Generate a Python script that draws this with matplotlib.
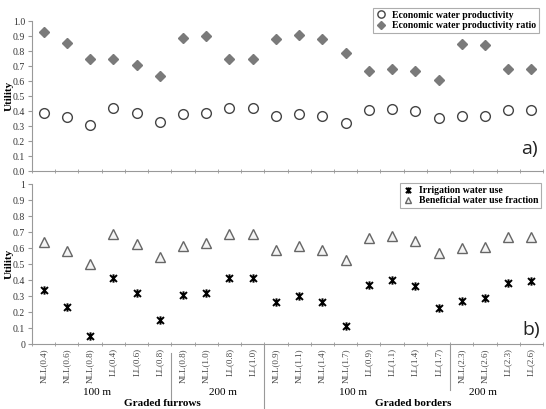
import numpy as np
import matplotlib
matplotlib.use("Agg")
import matplotlib.pyplot as plt
from matplotlib.path import Path

plt.rcParams['font.family'] = ['Liberation Serif', 'DejaVu Serif']

## data
labels = ["NLL(0.4)", "NLL(0.6)", "NLL(0.8)", "LL(0.4)", "LL(0.6)", "LL(0.8)",
          "NLL(0.8)", "NLL(1.0)", "LL(0.8)", "LL(1.0)",
          "NLL(0.9)", "NLL(1.1)", "NLL(1.4)", "NLL(1.7)", "LL(0.9)", "LL(1.1)", "LL(1.4)", "LL(1.7)",
          "NLL(2.3)", "NLL(2.6)", "LL(2.3)", "LL(2.6)"]
ewp = [0.39, 0.36, 0.31, 0.42, 0.385, 0.33, 0.38, 0.385, 0.42, 0.42,
       0.365, 0.38, 0.365, 0.32, 0.405, 0.415, 0.40, 0.355, 0.37, 0.37, 0.41, 0.41]
ewp_ratio = [0.93, 0.855, 0.75, 0.75, 0.705, 0.635, 0.885, 0.90, 0.75, 0.75,
             0.88, 0.905, 0.88, 0.785, 0.67, 0.68, 0.665, 0.61, 0.845, 0.84, 0.68, 0.68]
iwu = [0.335, 0.233, 0.052, 0.415, 0.32, 0.152, 0.308, 0.32, 0.41, 0.41,
       0.26, 0.298, 0.26, 0.11, 0.37, 0.402, 0.365, 0.223, 0.27, 0.29, 0.38, 0.396]
bwuf = [0.635, 0.58, 0.502, 0.687, 0.623, 0.542, 0.612, 0.631, 0.685, 0.685,
        0.59, 0.612, 0.59, 0.523, 0.662, 0.675, 0.646, 0.571, 0.602, 0.604, 0.669, 0.671]

x = np.arange(len(labels))

## star marker (x + vertical bar)
star = Path([(-1, -1), (1, 1), (-1, 1), (1, -1), (0, -1.2), (0, 1.2)],
            [Path.MOVETO, Path.LINETO, Path.MOVETO, Path.LINETO, Path.MOVETO, Path.LINETO])

fig = plt.figure(figsize=(5.46, 4.09), dpi=100)
ax1 = fig.add_axes([0.0586, 0.5819, 0.936, 0.3667])
ax2 = fig.add_axes([0.0586, 0.1589, 0.936, 0.3912])

ax1.plot(x, ewp, 'o', ms=7, mfc='white', mec='#444444', mew=1.0, ls='none',
         label='Economic water productivity')
ax1.plot(x, ewp_ratio, 'D', ms=5.5, mfc='#7a7a7a', mec='#7a7a7a', ls='none',
         label='Economic water productivity ratio')

ax2.plot(x, iwu, marker=star, ms=6, mec='black', mew=1.4, ls='none',
         label='Irrigation water use')
ax2.plot(x, bwuf, '^', ms=6.5, mfc='#f4f4f4', mec='#666666', mew=1.0, ls='none',
         label='Beneficial water use fraction')

for ax in (ax1, ax2):
    ax.set_xlim(-0.5, len(labels) - 0.5)
    ax.set_ylim(0, 1)
    ax.set_yticks(np.arange(0, 1.01, 0.1))
    for s in ('top', 'right'):
        ax.spines[s].set_visible(False)
    for s in ('left', 'bottom'):
        ax.spines[s].set_color('#999999')
        ax.spines[s].set_linewidth(0.8)
    ax.set_xticks(x)
    ax.set_xticks(np.arange(-0.5, len(labels), 1.0), minor=True)
    ax.tick_params(axis='x', which='major', length=0)
    ax.tick_params(axis='x', which='minor', length=3, direction='inout', color='#999999')
    ax.tick_params(axis='y', length=3, direction='out', color='#999999', labelsize=7, pad=2,
                   labelcolor='#333333')
    ax.set_ylabel('Utility', fontsize=8, fontweight='bold')
    ax.yaxis.set_label_coords(-0.036, 0.5)

ax1.set_yticklabels(['%.1f' % v for v in np.arange(0, 1.01, 0.1)])
ax1.set_xticklabels([])
ax2.set_yticklabels(['0'] + ['%.1f' % v for v in np.arange(0.1, 0.95, 0.1)] + ['1'])
ax2.set_xticklabels(labels, rotation=90, fontsize=6.5, color='#444444')
ax2.tick_params(axis='x', which='major', pad=3)

leg1 = ax1.legend(loc='upper right', bbox_to_anchor=(0.992, 1.087), borderaxespad=0,
                  frameon=True, fancybox=False, edgecolor='#999999', handlelength=1.0,
                  handletextpad=0.6, borderpad=0.3, labelspacing=0.15, markerscale=0.75,
                  prop={'size': 7, 'weight': 'bold'})
leg1.get_frame().set_linewidth(0.8)
leg2 = ax2.legend(loc='upper right', bbox_to_anchor=(0.996, 1.006), borderaxespad=0,
                  frameon=True, fancybox=False, edgecolor='#999999', handlelength=1.0,
                  handletextpad=0.6, borderpad=0.3, labelspacing=0.15, markerscale=0.75,
                  prop={'size': 7, 'weight': 'bold'})
leg2.get_frame().set_linewidth(0.8)

ax1.text(0.99, 0.15, 'a)', transform=ax1.transAxes, ha='right', va='center',
         fontsize=14, family='Open Sans', color='#222222')
ax2.text(0.995, 0.09, 'b)', transform=ax2.transAxes, ha='right', va='center',
         fontsize=14, family='Open Sans', color='#222222')

## group labels below panel b
tr = ax2.get_xaxis_transform()
for xs, y0, y1 in [(5.5, -0.056, -0.37), (9.5, -0.006, -0.406), (17.5, -0.006, -0.29)]:
    ax2.plot([xs, xs], [y0, y1], color='#999999', lw=0.8, transform=tr, clip_on=False)
for xs, t in [(2.3, '100 m'), (7.7, '200 m'), (13.3, '100 m'), (18.9, '200 m')]:
    ax2.text(xs, -0.30, t, transform=tr, ha='center', va='center', fontsize=8)
for xs, t in [(5.1, 'Graded furrows'), (15.9, 'Graded borders')]:
    ax2.text(xs, -0.372, t, transform=tr, ha='center', va='center', fontsize=8,
             fontweight='bold')

fig.savefig('out.png', dpi=100)
